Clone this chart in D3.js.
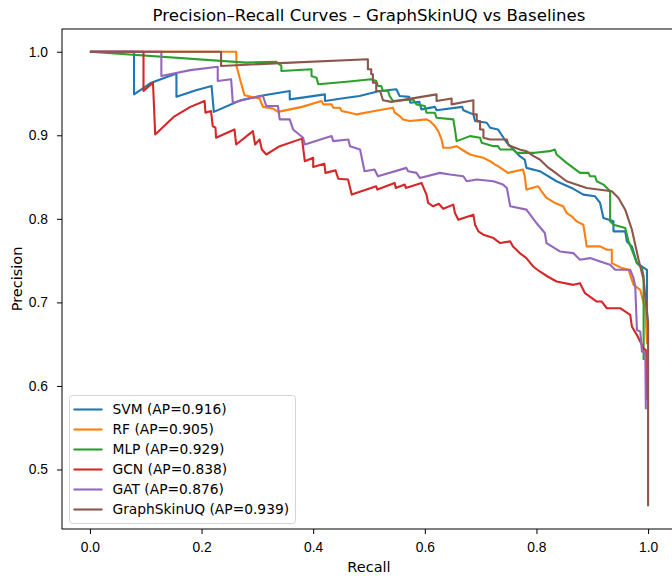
<!DOCTYPE html>
<html lang="en">
<head>
    <meta charset="UTF-8">
    <title>Precision-Recall Curves</title>
    <script src="https://d3js.org/d3.v7.min.js"></script>
    <style>
        body { margin: 0; background: #fff; }
        svg { font-family: "DejaVu Sans", sans-serif; }
        .axis text { font-size: 13.8px; fill: #000; }
        .axis line { stroke: #000; stroke-width: 1px; }
        .axis path { display: none; }
        .curve { fill: none; stroke-width: 2.1px; stroke-linejoin: round; }
        .legend text { font-size: 13.8px; fill: #000; }
    </style>
</head>
<body>
<div id="chart"></div>
<script>

    /* global d3 */

    // [recall, precision] points
    var svmPts = [[0,1.0],[0.079,1.0],[0.079,0.949],[0.11,0.963],[0.155,0.974],[0.155,0.946],[0.19,0.954],[0.218,0.959],
        [0.222,0.928],[0.27,0.942],[0.304,0.947],[0.358,0.953],[0.358,0.943],[0.39,0.946],[0.421,0.949],[0.421,0.941],
        [0.46,0.945],[0.483,0.947],[0.519,0.953],[0.549,0.955],[0.555,0.947],[0.572,0.946],[0.574,0.939],[0.59,0.94],
        [0.594,0.931],[0.618,0.934],[0.621,0.93],[0.667,0.934],[0.669,0.93],[0.687,0.925],[0.69,0.917],[0.711,0.915],
        [0.717,0.909],[0.731,0.907],[0.741,0.897],[0.747,0.891],[0.756,0.885],[0.77,0.875],[0.779,0.871],[0.782,0.861],
        [0.806,0.857],[0.836,0.845],[0.863,0.837],[0.884,0.829],[0.905,0.827],[0.914,0.819],[0.92,0.801],[0.938,0.797],
        [0.938,0.785],[0.959,0.785],[0.962,0.773],[0.971,0.767],[0.98,0.747],[0.998,0.739],[0.998,0.691],[1.0,0.667]];

    var rfPts = [[0,1.0],[0.262,1.0],[0.263,0.982],[0.271,0.962],[0.277,0.948],[0.304,0.944],[0.31,0.934],[0.328,0.932],
        [0.337,0.928],[0.38,0.934],[0.415,0.941],[0.418,0.937],[0.433,0.937],[0.436,0.933],[0.448,0.933],[0.451,0.929],
        [0.466,0.927],[0.478,0.925],[0.51,0.929],[0.543,0.933],[0.546,0.927],[0.555,0.923],[0.561,0.919],[0.573,0.917],
        [0.603,0.919],[0.609,0.917],[0.618,0.911],[0.624,0.905],[0.63,0.895],[0.633,0.885],[0.645,0.885],[0.657,0.887],
        [0.666,0.883],[0.681,0.877],[0.693,0.875],[0.705,0.873],[0.717,0.869],[0.726,0.865],[0.731,0.863],[0.749,0.855],
        [0.776,0.859],[0.779,0.851],[0.782,0.835],[0.803,0.839],[0.809,0.833],[0.818,0.825],[0.833,0.819],[0.848,0.815],
        [0.854,0.807],[0.863,0.803],[0.872,0.797],[0.884,0.793],[0.89,0.767],[0.914,0.767],[0.926,0.763],[0.935,0.763],
        [0.935,0.747],[0.953,0.741],[0.965,0.739],[0.974,0.721],[0.986,0.715],[0.989,0.707],[0.995,0.691],[0.998,0.65]];

    var mlpPts = [[0,1.0],[0.28,0.987],[0.334,0.988],[0.343,0.983],[0.343,0.977],[0.397,0.979],[0.397,0.971],[0.406,0.969],
        [0.409,0.961],[0.46,0.964],[0.504,0.967],[0.513,0.965],[0.516,0.959],[0.522,0.959],[0.525,0.953],[0.534,0.953],
        [0.537,0.947],[0.543,0.941],[0.579,0.943],[0.585,0.937],[0.6,0.935],[0.603,0.927],[0.618,0.927],[0.621,0.921],
        [0.651,0.919],[0.654,0.907],[0.657,0.893],[0.681,0.899],[0.699,0.897],[0.702,0.891],[0.723,0.887],[0.731,0.887],
        [0.735,0.883],[0.758,0.883],[0.765,0.879],[0.797,0.879],[0.824,0.881],[0.833,0.883],[0.836,0.877],[0.854,0.867],
        [0.866,0.861],[0.878,0.855],[0.893,0.855],[0.896,0.851],[0.905,0.851],[0.908,0.845],[0.92,0.841],[0.929,0.835],
        [0.932,0.833],[0.932,0.797],[0.938,0.793],[0.959,0.789],[0.965,0.773],[0.971,0.763],[0.98,0.747],[0.989,0.741],
        [0.992,0.731],[0.992,0.631]];

    var gcnPts = [[0,1.0],[0.096,1.0],[0.096,0.953],[0.113,0.963],[0.117,0.901],[0.15,0.922],[0.18,0.934],[0.2055,0.941],
        [0.207,0.927],[0.217,0.929],[0.22,0.911],[0.225,0.909],[0.226,0.897],[0.259,0.907],[0.262,0.889],[0.292,0.905],
        [0.296,0.889],[0.304,0.895],[0.308,0.883],[0.316,0.877],[0.34,0.887],[0.38,0.896],[0.385,0.869],[0.4,0.873],
        [0.4,0.862],[0.42,0.866],[0.422,0.855],[0.44,0.858],[0.445,0.848],[0.4625,0.847],[0.469,0.829],[0.513,0.839],
        [0.515,0.835],[0.546,0.843],[0.548,0.837],[0.564,0.841],[0.566,0.837],[0.594,0.843],[0.603,0.829],[0.606,0.819],
        [0.615,0.815],[0.625,0.818],[0.633,0.812],[0.651,0.817],[0.654,0.807],[0.66,0.799],[0.687,0.805],[0.69,0.793],
        [0.696,0.785],[0.705,0.781],[0.723,0.777],[0.735,0.771],[0.753,0.773],[0.758,0.767],[0.77,0.759],[0.782,0.753],
        [0.794,0.743],[0.806,0.737],[0.82,0.731],[0.836,0.725],[0.866,0.721],[0.878,0.723],[0.887,0.711],[0.908,0.701],
        [0.917,0.701],[0.926,0.693],[0.95,0.693],[0.968,0.685],[0.971,0.671],[0.98,0.661],[0.992,0.645],[0.996,0.643],
        [0.998,0.583]];

    var gatPts = [[0,1.0],[0.128,1.0],[0.128,0.971],[0.18,0.978],[0.229,0.982],[0.229,0.965],[0.253,0.967],[0.256,0.939],
        [0.285,0.944],[0.31,0.947],[0.316,0.935],[0.337,0.935],[0.34,0.919],[0.358,0.919],[0.364,0.907],[0.382,0.897],
        [0.385,0.889],[0.433,0.899],[0.436,0.893],[0.463,0.895],[0.466,0.887],[0.484,0.883],[0.492,0.857],[0.51,0.859],
        [0.516,0.851],[0.567,0.861],[0.57,0.857],[0.585,0.855],[0.591,0.849],[0.627,0.855],[0.645,0.853],[0.669,0.851],
        [0.675,0.845],[0.693,0.847],[0.723,0.845],[0.74,0.841],[0.747,0.837],[0.753,0.815],[0.782,0.811],[0.8,0.795],
        [0.815,0.783],[0.818,0.771],[0.842,0.761],[0.866,0.759],[0.878,0.751],[0.896,0.753],[0.914,0.749],[0.932,0.745],
        [0.941,0.739],[0.968,0.739],[0.974,0.729],[0.977,0.719],[0.98,0.667],[0.986,0.665],[0.989,0.641],[0.995,0.641],
        [0.996,0.572]];

    var uqPts = [[0,1.0],[0.235,1.0],[0.235,0.983],[0.36,0.987],[0.498,0.991],[0.498,0.979],[0.504,0.979],[0.504,0.973],
        [0.507,0.973],[0.507,0.963],[0.513,0.963],[0.513,0.953],[0.52,0.953],[0.525,0.942],[0.54,0.94],[0.621,0.949],
        [0.621,0.941],[0.648,0.944],[0.648,0.937],[0.687,0.942],[0.687,0.925],[0.693,0.925],[0.693,0.917],[0.699,0.917],
        [0.699,0.907],[0.705,0.907],[0.705,0.897],[0.717,0.895],[0.747,0.895],[0.75,0.888],[0.77,0.883],[0.782,0.881],
        [0.795,0.875],[0.806,0.871],[0.82,0.862],[0.83,0.857],[0.854,0.845],[0.89,0.837],[0.935,0.833],[0.947,0.825],
        [0.959,0.811],[0.971,0.787],[0.983,0.751],[0.992,0.727],[0.996,0.7],[1.0,0.675],[1.0,0.456]];

    var modelNames = ["SVM", "RF", "MLP", "GCN", "GAT", "GraphSkinUQ"];
    var apScores = [0.916, 0.905, 0.929, 0.838, 0.876, 0.939];
    var curves = [svmPts, rfPts, mlpPts, gcnPts, gatPts, uqPts];
    var xTicks = [0.0, 0.2, 0.4, 0.6, 0.8, 1.0];
    var yTicks = [0.5, 0.6, 0.7, 0.8, 0.9, 1.0];

    var colors = ["#1f77b4", "#ff7f0e", "#2ca02c", "#d62728", "#9467bd", "#8c564b"];

    var width = 672;
    var height = 576;
    var plotLeft = 62, plotRight = 676, plotTop = 29, plotBottom = 529;

    var svg = d3.select("#chart").append("svg")
        .attr("width", width)
        .attr("height", height);

    // matplotlib style autoscale with 5% margins
    var pMin = d3.min(curves, function (c) { return d3.min(c, function (d) { return d[1]; }); });
    var pMax = d3.max(curves, function (c) { return d3.max(c, function (d) { return d[1]; }); });
    var pad = (pMax - pMin) * 0.05;

    var x = d3.scaleLinear().domain([-0.05, 1.05]).range([plotLeft, plotRight]);
    var y = d3.scaleLinear().domain([pMin - pad, pMax + pad]).range([plotBottom, plotTop]);

    var line = d3.line()
        .x(function (d) { return x(d[0]); })
        .y(function (d) { return y(d[1]); });

    svg.append("g")
        .selectAll("path")
        .data(curves)
        .enter().append("path")
        .attr("class", "curve")
        .attr("stroke", function (d, i) { return colors[i]; })
        .attr("d", line);

    // frame
    svg.append("rect")
        .attr("x", plotLeft)
        .attr("y", plotTop)
        .attr("width", plotRight - plotLeft)
        .attr("height", plotBottom - plotTop)
        .attr("fill", "none")
        .attr("stroke", "#000")
        .attr("stroke-width", 1);

    svg.append("g")
        .attr("class", "axis")
        .attr("transform", "translate(0," + plotBottom + ")")
        .call(d3.axisBottom(x).tickValues(xTicks).tickFormat(d3.format(".1f")).tickSize(5).tickPadding(8));

    svg.append("g")
        .attr("class", "axis")
        .attr("transform", "translate(" + plotLeft + ",0)")
        .call(d3.axisLeft(y).tickValues(yTicks).tickFormat(d3.format(".1f")).tickSize(5).tickPadding(9));

    svg.append("text")
        .attr("x", (plotLeft + plotRight) / 2)
        .attr("y", 21)
        .attr("text-anchor", "middle")
        .style("font-size", "16.6px")
        .text("Precision\u2013Recall Curves \u2013 GraphSkinUQ vs Baselines");

    svg.append("text")
        .attr("x", (plotLeft + plotRight) / 2)
        .attr("y", 572)
        .attr("text-anchor", "middle")
        .style("font-size", "14.5px")
        .text("Recall");

    svg.append("text")
        .attr("transform", "translate(22," + (plotTop + plotBottom) / 2 + ") rotate(-90)")
        .attr("text-anchor", "middle")
        .style("font-size", "14.5px")
        .text("Precision");

    // legend
    var legend = svg.append("g").attr("class", "legend");

    legend.append("rect")
        .attr("x", 69.5)
        .attr("y", 395.5)
        .attr("width", 226)
        .attr("height", 128)
        .attr("rx", 3)
        .attr("fill", "#fff")
        .attr("fill-opacity", 0.8)
        .attr("stroke", "#d5d5d5");

    var item = legend.selectAll("g.item")
        .data(modelNames)
        .enter().append("g")
        .attr("class", "item")
        .attr("transform", function (d, i) { return "translate(0," + (409.5 + i * 20) + ")"; });

    item.append("line")
        .attr("x1", 73.5)
        .attr("x2", 102.5)
        .attr("stroke", function (d, i) { return colors[i]; })
        .attr("stroke-width", 2.1);

    item.append("text")
        .attr("x", 112.5)
        .attr("dy", "0.35em")
        .text(function (d, i) { return d + " (AP=" + apScores[i].toFixed(3) + ")"; });

</script>
</body>
</html>
